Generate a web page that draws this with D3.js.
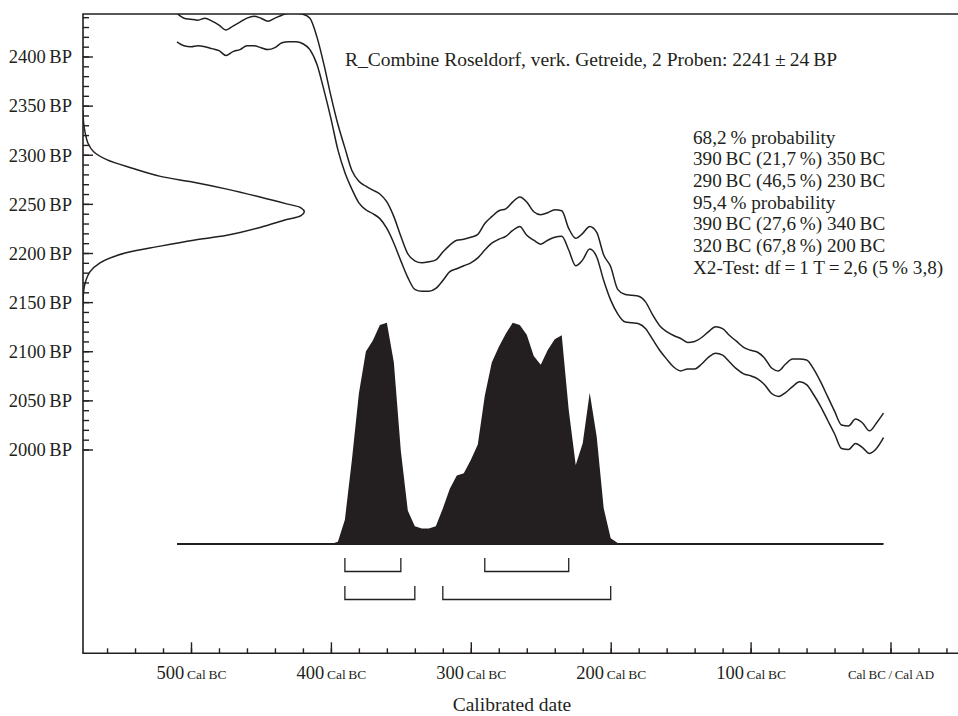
<!DOCTYPE html>
<html lang="de">
<head>
    <meta charset="UTF-8">
    <title>R_Combine Roseldorf</title>
    <script src="https://d3js.org/d3.v7.min.js"></script>
    <style>
        body { margin: 0; background: #fff; }
        text { font-family: "Liberation Serif", "DejaVu Serif", serif; fill: #231f20; }
    </style>
</head>
<body>
 <div id="mainbody"></div>
 <script>

    // calendar grid of the curve, years BC (5 year steps)
    const calBC = d3.range(510, 0, -5);

    // calibration curve, upper and lower line (BP)
    const upperBP = [
        2444, 2439, 2438, 2437, 2439, 2436, 2432, 2427, 2431, 2435, 2439, 2441, 2439, 2436, 2439, 2442, 2444, 2444, 2443, 2439,
        2420, 2392, 2360, 2331, 2307, 2284, 2273, 2268, 2264, 2260, 2252, 2237, 2217, 2199, 2192, 2190, 2191, 2193, 2201, 2208,
        2213, 2214, 2216, 2219, 2230, 2237, 2243, 2245, 2252, 2257, 2252, 2242, 2239, 2241, 2244, 2243, 2225, 2215, 2220, 2227,
        2221, 2198, 2186, 2163, 2158, 2157, 2156, 2150, 2137, 2126, 2120, 2116, 2113, 2109, 2110, 2114, 2120, 2125, 2123, 2116,
        2110, 2104, 2101, 2099, 2093, 2083, 2080, 2087, 2092, 2092, 2091, 2082, 2069, 2054, 2039, 2025, 2024, 2031, 2027, 2019,
        2027, 2037
    ];
    const lowerBP = [
        2415, 2411, 2410, 2411, 2410, 2408, 2406, 2401, 2405, 2407, 2411, 2411, 2409, 2407, 2409, 2414, 2415, 2415, 2413, 2407,
        2392, 2366, 2337, 2305, 2282, 2265, 2251, 2244, 2240, 2235, 2225, 2210, 2192, 2175, 2163, 2161, 2161, 2164, 2172, 2181,
        2184, 2187, 2190, 2195, 2203, 2210, 2214, 2217, 2223, 2227, 2218, 2213, 2209, 2213, 2216, 2217, 2203, 2187, 2193, 2204,
        2196, 2172, 2152, 2138, 2130, 2129, 2128, 2123, 2112, 2101, 2092, 2084, 2080, 2082, 2082, 2087, 2094, 2098, 2096, 2089,
        2082, 2077, 2075, 2072, 2066, 2057, 2054, 2058, 2064, 2069, 2066, 2056, 2044, 2030, 2016, 2001, 2000, 2006, 2002, 1996,
        2001, 2012
    ];

    // calibrated probability (relative), same grid as calBC
    const calProb = [
        0, 0, 0, 0, 0, 0, 0, 0, 0, 0, 0, 0, 0, 0, 0, 0, 0, 0, 0, 0,
        0, 0, 0, 0.01, 0.11, 0.38, 0.68, 0.87, 0.92, 0.99, 1.0, 0.82, 0.42, 0.15, 0.08, 0.07, 0.07, 0.08, 0.16, 0.25,
        0.31, 0.32, 0.38, 0.45, 0.67, 0.82, 0.89, 0.95, 1.0, 0.99, 0.945, 0.85, 0.81, 0.877, 0.925, 0.943, 0.605, 0.357, 0.455, 0.684,
        0.485, 0.161, 0.026, 0.005, 0.002, 0.002, 0.002, 0.002, 0.002, 0.002, 0.002, 0.002, 0.002, 0.002, 0.002, 0.002, 0.002, 0.002, 0.002, 0.002,
        0.002, 0.002, 0.002, 0.002, 0.002, 0.003, 0.003, 0.003, 0.003, 0.003, 0.003, 0.003, 0.003, 0.003, 0.003, 0.002, 0.002, 0.002, 0.002, 0.002,
        0.002, 0.002
    ];

    // measured radiocarbon date 2241 +- 24 BP, drawn on the BP axis
    const dateBP = [2345, 2332, 2322, 2312, 2303, 2295, 2286, 2278, 2272, 2265, 2257, 2250, 2246, 2242,
                    2238, 2234, 2226, 2218, 2213, 2207, 2200, 2190, 2181, 2169, 2159, 2145];
    const dateProb = [0, 0.003, 0.01, 0.022, 0.048, 0.107, 0.227, 0.35, 0.50, 0.65, 0.80, 0.92, 0.985, 1.0,
                      0.985, 0.92, 0.80, 0.65, 0.50, 0.35, 0.19, 0.077, 0.032, 0.009, 0.002, 0];

    // probability ranges (from, to in BC)
    const range68 = [[390, 350], [290, 230]];
    const range95 = [[390, 340], [320, 200]];

    const bpTicks = [2000, 2050, 2100, 2150, 2200, 2250, 2300, 2350, 2400];
    const bpMinor = d3.range(2000, 2441, 10);
    const calTicks = [500, 400, 300, 200, 100, 0];
    const calMinor = d3.range(560, -41, -20);

    const title = "R_Combine Roseldorf, verk. Getreide, 2 Proben: 2241\u2009\u00b1\u200924\u2009BP";
    const resultLines = [
        "68,2\u2009% probability",
        "390\u2009BC (21,7\u2009%) 350\u2009BC",
        "290\u2009BC (46,5\u2009%) 230\u2009BC",
        "95,4\u2009% probability",
        "390\u2009BC (27,6\u2009%) 340\u2009BC",
        "320\u2009BC (67,8\u2009%) 200\u2009BC",
        "X2-Test: df\u2009=\u20091 T\u2009=\u20092,6 (5\u2009% 3,8)"
    ];

    const width = 958, height = 716;
    const plotLeft = 83, plotTop = 14, plotBottom = 653.3;

    const svg = d3.select("#mainbody").append("svg")
        .attr("width", width)
        .attr("height", height)
        .style("display", "block");

    svg.append("rect").attr("width", width).attr("height", height).attr("fill", "#fff");

    const x = d3.scaleLinear().domain([500, 0]).range([191, 890.5]);     // years BC
    const y = d3.scaleLinear().domain([2000, 2400]).range([449.5, 56.5]); // BP
    const yProb = d3.scaleLinear().domain([0, 1]).range([544, 322.7]);
    const xProb = d3.scaleLinear().domain([0, 1]).range([plotLeft, 304.3]);

    svg.append("clipPath").attr("id", "plotclip")
        .append("rect")
        .attr("x", plotLeft).attr("y", plotTop)
        .attr("width", width - plotLeft).attr("height", plotBottom - plotTop);

    const plot = svg.append("g").attr("clip-path", "url(#plotclip)");

    // calibrated distribution
    const calData = calBC.map((d, i) => ({ bc: d, p: calProb[i] }));
    plot.append("path")
        .datum(calData)
        .attr("fill", "#231f20")
        .attr("d", d3.area().x(d => x(d.bc)).y0(yProb(0)).y1(d => yProb(d.p)));

    plot.append("line")
        .attr("x1", x(calBC[0])).attr("x2", x(calBC[calBC.length - 1]))
        .attr("y1", yProb(0)).attr("y2", yProb(0))
        .attr("stroke", "#231f20")
        .attr("stroke-width", 2);

    // calibration curve
    const curveLine = d3.line().x(d => x(d[0])).y(d => y(d[1])).curve(d3.curveMonotoneX);
    [upperBP, lowerBP].forEach(series => {
        plot.append("path")
            .datum(calBC.map((d, i) => [d, series[i]]))
            .attr("fill", "none")
            .attr("stroke", "#231f20")
            .attr("stroke-width", 1.5)
            .attr("d", curveLine);
    });

    // radiocarbon date on the BP axis
    plot.append("path")
        .datum(dateBP.map((d, i) => [dateProb[i], d]))
        .attr("fill", "none")
        .attr("stroke", "#231f20")
        .attr("stroke-width", 1.5)
        .attr("d", d3.line().x(d => xProb(d[0])).y(d => y(d[1])).curve(d3.curveCatmullRom));

    // range brackets
    function brackets(ranges, yTop, yBot) {
        svg.append("g").selectAll("path")
            .data(ranges)
            .enter()
            .append("path")
            .attr("fill", "none")
            .attr("stroke", "#231f20")
            .attr("stroke-width", 1.3)
            .attr("d", d => `M${x(d[0])},${yTop}V${yBot}H${x(d[1])}V${yTop}`);
    }
    brackets(range68, 558, 571.5);
    brackets(range95, 586, 599.5);

    // y axis
    const yAxis = svg.append("g").attr("transform", `translate(${plotLeft},0)`);
    yAxis.call(d3.axisLeft(y).tickValues(bpMinor).tickSize(-6).tickFormat(""));
    yAxis.call(g => g.select(".domain").remove());
    const yMajor = svg.append("g").attr("transform", `translate(${plotLeft},0)`);
    yMajor.call(d3.axisLeft(y).tickValues(bpTicks).tickSize(-10).tickPadding(11).tickFormat(d => d + "\u2009BP"));
    yMajor.call(g => g.select(".domain").remove());
    yMajor.selectAll("text")
        .attr("font-size", 18.5)
        .attr("font-family", "Liberation Serif")
        .attr("dy", "0.34em");

    // x axis
    const xMinor = svg.append("g").attr("transform", `translate(0,${plotBottom})`);
    xMinor.call(d3.axisBottom(x).tickValues(calMinor).tickSize(-5).tickFormat(""));
    xMinor.call(g => g.select(".domain").remove());
    const xAxis = svg.append("g").attr("transform", `translate(0,${plotBottom})`);
    xAxis.call(d3.axisBottom(x).tickValues(calTicks).tickSize(-11).tickPadding(12).tickFormat(""));
    xAxis.call(g => g.select(".domain").remove());
    xAxis.selectAll(".tick text").each(function(d) {
        const t = d3.select(this).attr("y", 26).attr("dy", null).attr("font-family", "Liberation Serif");
        if (d === 0) {
            t.append("tspan").attr("font-size", 13).text("Cal\u2009BC\u2009/\u2009Cal\u2009AD");
        } else {
            t.append("tspan").attr("font-size", 18.5).text(d);
            t.append("tspan").attr("font-size", 13.5).text("\u2009Cal\u2009BC");
        }
    });
    svg.selectAll(".tick line").attr("stroke", "#231f20").attr("stroke-width", 1.4);

    // frame
    svg.append("path")
        .attr("fill", "none")
        .attr("stroke", "#231f20")
        .attr("stroke-width", 1.6)
        .attr("d", `M${width},${plotTop}H${plotLeft}V${plotBottom}H${width}`);

    // texts
    svg.append("text")
        .attr("x", 345).attr("y", 66)
        .attr("font-size", 19.5)
        .text(title);

    svg.append("g").selectAll("text")
        .data(resultLines)
        .enter()
        .append("text")
        .attr("x", 693)
        .attr("y", (d, i) => 143.5 + i * 21.7)
        .attr("font-size", 19.2)
        .text(d => d);

    svg.append("text")
        .attr("x", 512).attr("y", 711)
        .attr("text-anchor", "middle")
        .attr("font-size", 19.5)
        .text("Calibrated date");

 </script>
</body>
</html>
